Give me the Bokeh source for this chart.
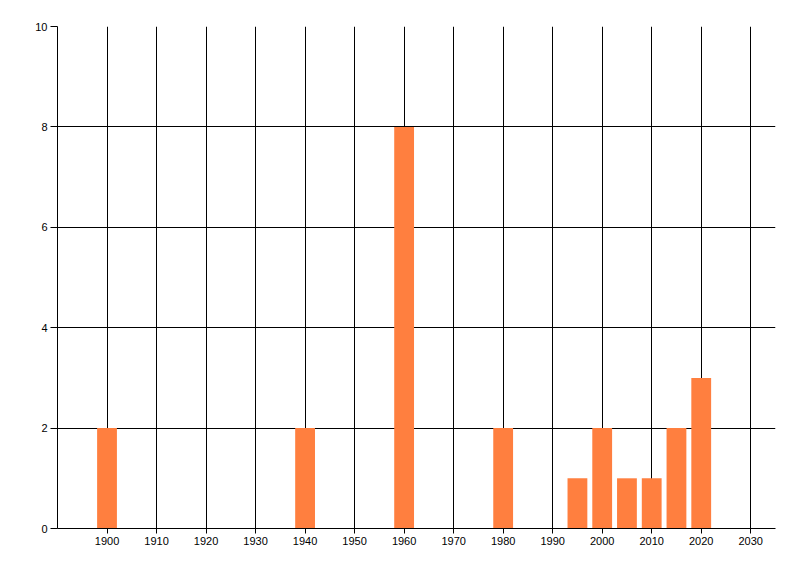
from bokeh.plotting import figure
from bokeh.models import FixedTicker, Range1d, ColumnDataSource
from bokeh.embed import file_html
from bokeh.resources import INLINE

years = [1900, 1940, 1960, 1980, 1995, 2000, 2005, 2010, 2015, 2020]
counts = [2, 2, 8, 2, 1, 2, 1, 1, 2, 3]
x_ticks = list(range(1900, 2031, 10))
y_ticks = [0, 2, 4, 6, 8, 10]

src = ColumnDataSource(dict(x=years, top=counts))

p = figure(frame_width=718, frame_height=502,
           min_border_left=57, min_border_right=17,
           min_border_top=26, min_border_bottom=40,
           x_range=Range1d(1890, 2035), y_range=Range1d(0, 10),
           output_backend="svg", toolbar_location=None)
p.outline_line_color = None
p.background_fill_color = "white"
p.border_fill_color = "white"

p.vbar(x="x", top="top", bottom=0, width=4, source=src,
       fill_color="#FF7F3F", line_color=None)

p.xaxis.ticker = FixedTicker(ticks=x_ticks)
p.yaxis.ticker = FixedTicker(ticks=y_ticks)
for ax in (p.xaxis[0], p.yaxis[0]):
    ax.axis_line_color = "black"
    ax.axis_line_width = 1
    ax.major_tick_line_color = "black"
    ax.minor_tick_line_color = None
    ax.major_tick_in = 0
    ax.major_label_text_font = "Liberation Sans"
    ax.major_label_text_font_size = "11px"
    ax.major_label_text_color = "black"
p.xaxis.major_tick_out = 5
p.xaxis.major_label_standoff = 3
p.yaxis.major_tick_out = 7
p.yaxis.major_label_standoff = 3

p.xgrid.grid_line_color = "black"
p.ygrid.grid_line_color = "black"
p.xgrid.grid_line_width = 1
p.ygrid.grid_line_width = 1
p.xgrid.level = "underlay"
p.ygrid.level = "underlay"

open("out.html", "w").write(file_html(p, INLINE))
